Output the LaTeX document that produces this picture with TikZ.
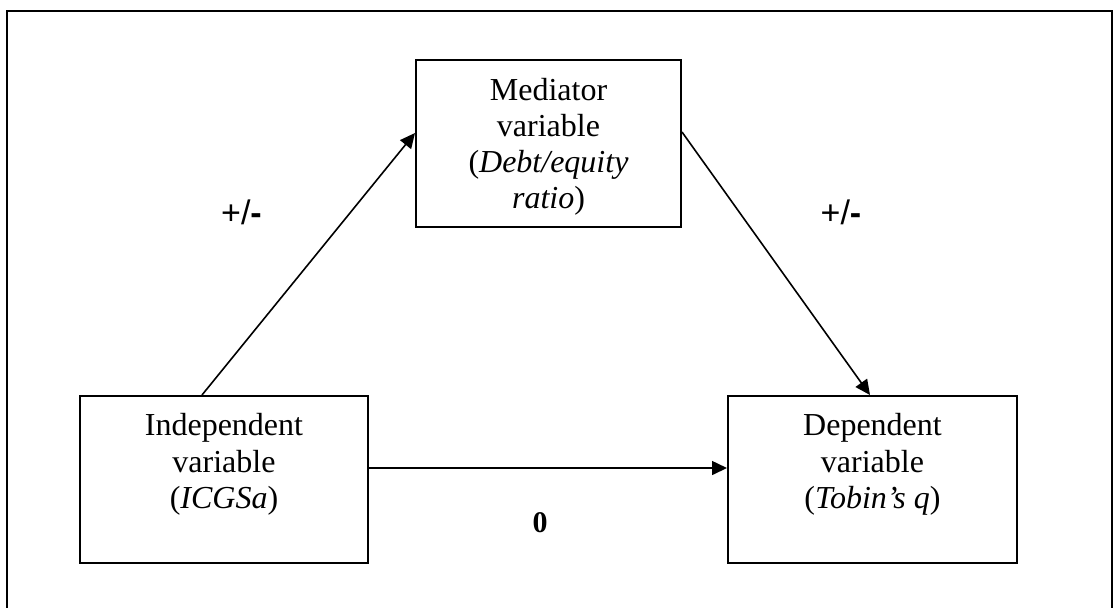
\documentclass[tikz,border=0pt]{standalone}
\usepackage{fontspec}
\setmainfont{Liberation Serif}
\newfontfamily\signfont{Liberation Sans}
\usetikzlibrary{arrows.meta}

\tikzset{
  frame/.style={line width=1.3pt},
  varbox/.style={draw, line width=1pt, rectangle, inner sep=0pt, minimum height=83.5pt},
  boxline/.style={anchor=base, inner sep=0pt, font=\fontsize{16pt}{18pt}\selectfont},
  link/.style={line width=0.8pt, -{Triangle[length=7.5pt,width=7pt]}},
  sign/.style={anchor=base, inner sep=0pt, font=\signfont\fontsize{17pt}{18pt}\selectfont},
  zero/.style={anchor=base, inner sep=0pt, font=\bfseries\fontsize{15pt}{18pt}\selectfont}
}

\begin{document}
\begin{tikzpicture}[x=0.5pt, y=-0.5pt]
  \clip (0,0) rectangle (1114,607);
  \fill[white] (0,0) rectangle (1114,607);

  % surrounding frame, open at the bottom of the page
  \draw[frame] (7,11) rectangle (1112,640);

  % the three variable boxes
  \node[varbox, minimum width=144pt] (ind) at (224,479.5) {};
  \node[varbox, minimum width=132.5pt] (med) at (548.5,143.5) {};
  \node[varbox, minimum width=144.5pt] (dep) at (872.5,479.5) {};

  % box texts, one line at a time
  \node[boxline] (ind1) at (224,435.5) {Independent};
  \node[boxline] (ind2) at (224,472) {variable};
  \node[boxline] (ind3) at (224,508.5) {(\textit{ICGSa})};

  \node[boxline] (med1) at (548.5,100.5) {Mediator};
  \node[boxline] (med2) at (548.5,136.5) {variable};
  \node[boxline] (med3) at (548.5,172.5) {(\textit{Debt/equity}};
  \node[boxline] (med4) at (548.5,208.5) {\textit{ratio})};

  \node[boxline] (dep1) at (872.5,435.5) {Dependent};
  \node[boxline] (dep2) at (872.5,472) {variable};
  \node[boxline] (dep3) at (872.5,508.5) {(\textit{Tobin’s q})};

  % paths between the variables
  \draw[link] ([xshift=-11pt]ind.north) -- ([yshift=5.25pt]med.west);
  \draw[link] ([yshift=5.75pt]med.east) -- ([xshift=-1.25pt]dep.north);
  \draw[link] ([yshift=5.75pt]ind.east) -- ([yshift=5.75pt]dep.west);

  % path signs
  \node[sign] (sa) at (241.5,224.5) {+/\textbf{-}};
  \node[sign] (sb) at (841,224.5) {+/\textbf{-}};
  \node[zero] (sc) at (540,532) {0};
\end{tikzpicture}
\end{document}
